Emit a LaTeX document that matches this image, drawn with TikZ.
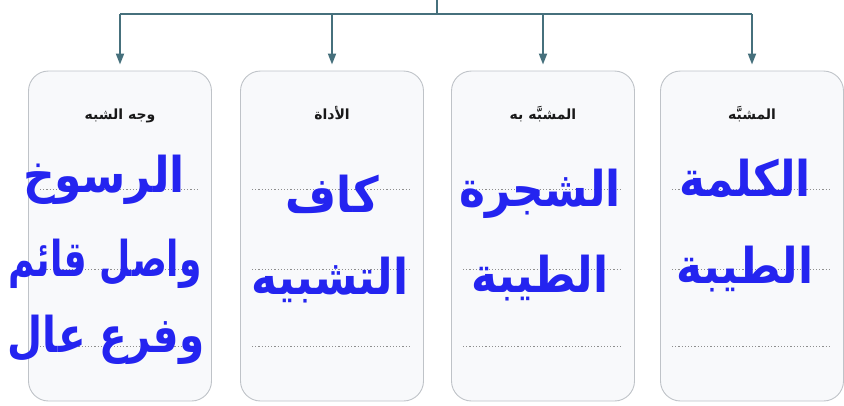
\documentclass[tikz,border=0pt]{standalone}
\usepackage{fontspec}
\usetikzlibrary{arrows.meta,calc}
\TeXXeTstate=1
\newfontfamily\arabicfont[Script=Arabic]{DejaVu Sans}
\definecolor{linec}{HTML}{46707C}
\definecolor{boxfill}{HTML}{F8F9FB}
\definecolor{boxdraw}{HTML}{BFC3C8}
\definecolor{bluetxt}{HTML}{2424F0}
\definecolor{dotc}{HTML}{8E8E8E}
\tikzset{
  box/.style={draw=boxdraw, fill=boxfill, line width=0.9pt, rounded corners=20pt,
    minimum width=183pt, minimum height=330pt, inner sep=0pt},
  conn/.style={draw=linec, line width=1.8pt},
  arr/.style={conn, -{Triangle[length=11pt,width=8pt]}},
  head/.style={font=\arabicfont\bfseries\fontsize{14}{16}\selectfont, text=black!90, anchor=base},
  big/.style={font=\arabicfont\bfseries\fontsize{44}{50}\selectfont, text=bluetxt, anchor=base, inner sep=0pt, yscale=1.12},
  dotl/.style={draw=dotc, line width=1.2pt, dotted}
}
\begin{document}
\begin{tikzpicture}[x=1pt,y=-1pt]
\useasboundingbox (0,0) rectangle (844,405);
% boxes
\node[box] (b1) at (120,236) {};
\node[box] (b2) at (332,236) {};
\node[box] (b3) at (543,236) {};
\node[box] (b4) at (752,236) {};
% connectors
\coordinate (top) at (437,0);
\coordinate (hub) at (437,14);
\draw[conn] (top) -- (hub);
\draw[conn] (b1.north |- hub) -- (b4.north |- hub);
\foreach \b in {b1,b2,b3,b4}{
  \draw[arr] (\b.north |- hub) -- ([yshift=6pt]\b.north);
}
% dotted lines
\foreach \b in {b1,b2,b3,b4}{
  \foreach \yy in {119,199,276}{
    \draw[dotl] ([xshift=12pt,yshift=-\yy pt]\b.north west) -- ([xshift=-12pt,yshift=-\yy pt]\b.north east);
  }
}
% headers
\node[head] (h1) at (120,119) {\beginR وجه الشبه\endR};
\node[head] (h2) at (332,119) {\beginR الأداة\endR};
\node[head] (h3) at (543,119) {\beginR المشبَّه به\endR};
\node[head] (h4) at (752,119) {\beginR المشبَّه\endR};
% blue texts
\node[big] (t11) at (104,192) {\beginR الرسوخ\endR};
\node[big, xscale=0.82] (t12) at (105,276) {\beginR واصل قائم\endR};
\node[big, xscale=0.92] (t13) at (106,352) {\beginR وفرع عال\endR};
\node[big] (t21) at (332,212) {\beginR كاف\endR};
\node[big] (t22) at (330,294) {\beginR التشبيه\endR};
\node[big] (t31) at (540,206) {\beginR الشجرة\endR};
\node[big] (t32) at (540,292) {\beginR الطيبة\endR};
\node[big] (t41) at (745,196) {\beginR الكلمة\endR};
\node[big] (t42) at (745,283) {\beginR الطيبة\endR};
\end{tikzpicture}
\end{document}
